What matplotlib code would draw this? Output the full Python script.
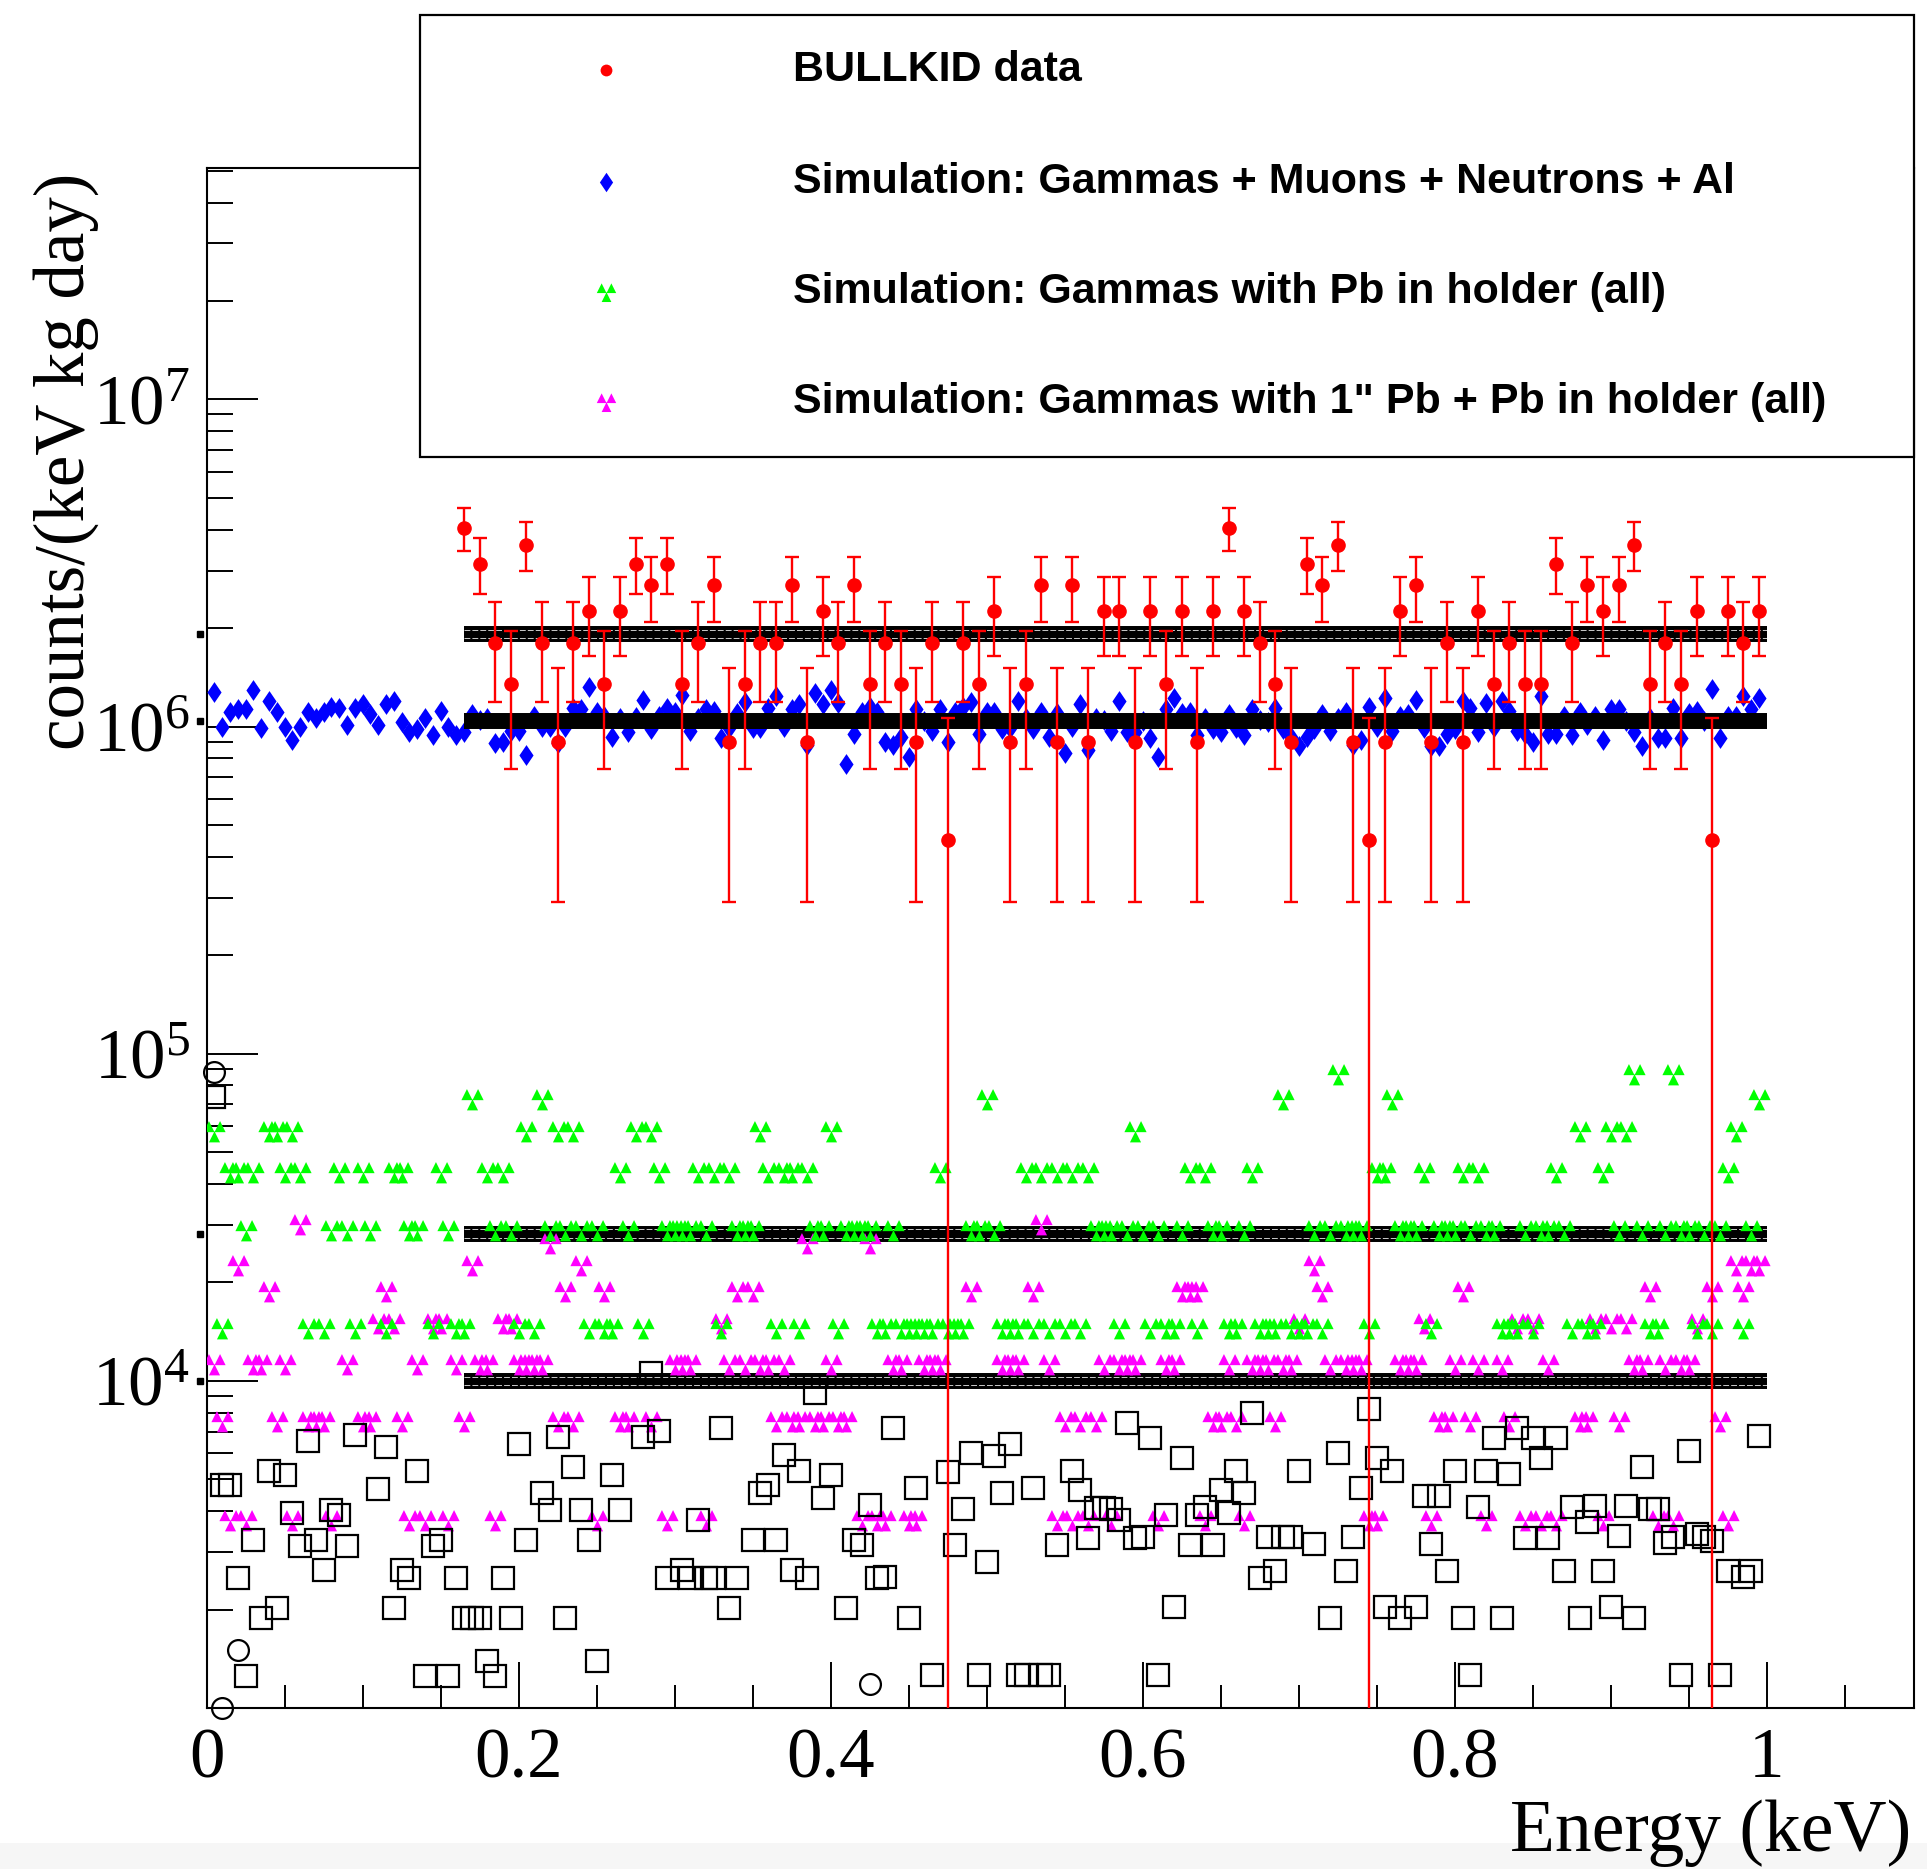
import numpy as np
import matplotlib
matplotlib.use('Agg')
import matplotlib.pyplot as plt
from matplotlib.path import Path
from matplotlib.lines import Line2D
from matplotlib.patches import Rectangle
from matplotlib.ticker import FixedLocator, FixedFormatter, NullFormatter

plt.rcParams['font.family'] = ['Liberation Serif', 'DejaVu Serif']
plt.rcParams['mathtext.fontset'] = 'custom'
plt.rcParams['mathtext.rm'] = 'Liberation Serif'
plt.rcParams['mathtext.it'] = 'Liberation Serif:italic'
plt.rcParams['mathtext.bf'] = 'Liberation Serif:bold'
plt.rcParams['lines.scale_dashes'] = False

# ---------------- data ----------------
legend_labels = ["BULLKID data",
                 "Simulation: Gammas + Muons + Neutrons + Al",
                 "Simulation: Gammas with Pb in holder (all)",
                 "Simulation: Gammas with 1\" Pb + Pb in holder (all)"]

# BULLKID data (counts/(keV kg day)), 0.01 keV bins from 0.165 keV
red_x = np.round(0.165 + 0.01 * np.arange(84), 3)
red_y = np.array([4.05, 3.15, 1.80, 1.35, 3.60, 1.80, 0.90, 1.80, 2.25,
                  1.35, 2.25, 3.15, 2.70, 3.15, 1.35, 1.80, 2.70, 0.90, 1.35, 1.80, 1.80, 2.70, 0.90,
                  2.25, 1.80, 2.70, 1.35, 1.80, 1.35, 0.90, 1.80, 0.45, 1.80, 1.35,
                  2.25, 0.90, 1.35, 2.70, 0.90, 2.70, 0.90, 2.25, 2.25, 0.90, 2.25, 1.35, 2.25, 0.90,
                  2.25, 4.05, 2.25, 1.80, 1.35, 0.90, 3.15, 2.70, 3.60, 0.90,
                  0.45, 0.90, 2.25, 2.70, 0.90, 1.80, 0.90, 2.25, 1.35, 1.80, 1.35, 1.35, 3.15, 1.80,
                  2.70, 2.25, 2.70, 3.60, 1.35, 1.80, 1.35, 2.25, 0.45, 2.25, 1.80, 2.25]) * 1e6
red_err = 0.61e6

# Simulation: Gammas + Muons + Neutrons + Al (0.005 keV bins)
blue_x = np.round(0.005 * np.arange(1, 200), 3)
blue_y = np.array([
    1.28, 1.00, 1.11, 1.13, 1.13, 1.29, 0.99, 1.20, 1.11, 1.00,
    0.91, 1.00, 1.11, 1.06, 1.11, 1.15, 1.14, 1.01, 1.14, 1.17,
    1.09, 1.01, 1.17, 1.20, 1.03, 0.96, 0.98, 1.06, 0.94, 1.12,
    1.00, 0.94, 0.96, 1.09, 1.05, 1.06, 0.89, 0.90, 0.97, 0.97,
    0.82, 1.08, 1.00, 1.00, 0.89, 1.00, 1.14, 1.13, 1.32, 1.11,
    1.08, 0.93, 1.06, 0.96, 1.07, 1.21, 0.98, 1.08, 1.14, 1.11,
    1.25, 0.97, 1.06, 1.13, 1.12, 0.92, 0.99, 1.10, 1.19, 0.99,
    0.99, 1.14, 1.24, 1.00, 1.13, 1.17, 0.88, 1.27, 1.17, 1.29,
    1.18, 0.77, 0.95, 1.11, 1.15, 1.11, 0.90, 0.88, 0.93, 0.81,
    1.13, 1.04, 0.97, 1.13, 0.90, 1.11, 1.15, 1.19, 0.95, 1.11,
    1.11, 0.98, 0.99, 1.20, 1.06, 0.98, 1.11, 0.93, 1.10, 0.83,
    1.00, 1.17, 0.85, 1.06, 1.05, 0.97, 1.20, 0.96, 0.96, 1.04,
    0.92, 0.81, 1.13, 1.22, 1.10, 1.11, 0.94, 1.06, 0.98, 0.96,
    1.09, 0.99, 0.94, 1.13, 1.05, 1.03, 1.14, 0.98, 0.93, 0.87,
    0.93, 0.98, 1.09, 0.97, 1.06, 1.11, 0.88, 0.91, 1.15, 1.00,
    1.22, 0.97, 1.08, 1.09, 1.21, 0.99, 0.87, 0.87, 0.95, 0.98,
    1.20, 1.14, 0.96, 1.18, 1.00, 1.20, 1.12, 0.97, 0.95, 0.90,
    1.24, 0.95, 0.95, 1.08, 0.94, 1.11, 1.01, 1.08, 0.91, 1.13,
    1.13, 1.04, 0.96, 0.87, 1.06, 0.92, 0.92, 1.14, 0.92, 1.10,
    1.12, 1.04, 1.30, 0.92, 1.08, 1.08, 1.24, 1.13, 1.22]) * 1e6

# Simulation: Gammas with Pb in holder (all)  (values in 1e4)
green_x = [0.005, 0.010, 0.015, 0.020, 0.025, 0.030, 0.040, 0.045, 0.050, 0.055,
           0.060, 0.065, 0.075, 0.080, 0.085, 0.090, 0.095, 0.100, 0.105, 0.115,
           0.120, 0.125, 0.130, 0.135, 0.145, 0.150, 0.155, 0.160, 0.165, 0.170,
           0.180, 0.185, 0.190, 0.195, 0.200, 0.205, 0.210, 0.215, 0.220, 0.225,
           0.230, 0.235, 0.240, 0.245, 0.250, 0.255, 0.260, 0.265, 0.270, 0.275,
           0.280, 0.285, 0.290, 0.295] + list(np.round(np.arange(0.300, 0.9951, 0.005), 3))
green_y = np.array([
    5.8, 1.45, 4.35, 4.35, 2.9, 4.35, 5.8, 5.8, 4.35, 5.8,
    4.35, 1.45, 1.45, 2.9, 4.35, 2.9, 1.45, 4.35, 2.9, 1.45,
    4.35, 4.35, 2.9, 2.9, 1.45, 4.35, 2.9, 1.45, 1.45, 7.25,
    4.35, 2.9, 4.35, 2.9, 1.45, 5.8, 1.45, 7.25, 2.9, 5.8,
    2.9, 5.8, 2.9, 1.45, 2.9, 1.45, 1.45, 4.35, 2.9, 5.8,
    1.45, 5.8, 4.35, 2.9,
    2.9, 2.9, 2.9, 4.35, 2.9, 4.35, 1.45, 4.35, 2.9, 2.9,
    2.9, 5.8, 4.35, 1.45, 4.35, 4.35, 1.45, 4.35, 2.9, 2.9,
    5.8, 1.45, 2.9, 2.9, 2.9, 2.9, 1.45, 1.45, 2.9, 1.45,
    1.45, 1.45, 1.45, 1.45, 4.35, 1.45, 1.45, 1.45, 2.9, 2.9,
    7.25, 2.9, 1.45, 1.45, 1.45, 4.35, 1.45, 4.35, 1.45, 4.35,
    1.45, 4.35, 1.45, 4.35, 2.9, 2.9, 2.9, 1.45, 2.9, 5.8,
    2.9, 1.45, 2.9, 1.45, 1.45, 2.9, 4.35, 1.45, 4.35, 2.9,
    2.9, 1.45, 1.45, 2.9, 4.35, 1.45, 1.45, 1.45, 7.25, 1.45,
    1.45, 1.45, 2.9, 1.45, 2.9, 8.7, 2.9, 2.9, 2.9, 1.45,
    4.35, 4.35, 7.25, 2.9, 2.9, 2.9, 4.35, 1.45, 2.9, 2.9,
    2.9, 4.35, 2.9, 4.35, 2.9, 2.9, 1.45, 1.45, 1.45, 2.9,
    1.45, 2.9, 2.9, 4.35, 2.9, 1.45, 5.8, 1.45, 1.45, 4.35,
    5.8, 2.9, 5.8, 8.7, 2.9, 1.45, 1.45, 2.9, 8.7, 2.9,
    2.9, 1.45, 2.9, 1.45, 2.9, 4.35, 5.8, 1.45, 2.9, 7.25]) * 1e4

# Simulation: Gammas with 1" Pb + Pb in holder (all)  (values in 1e3)
mag_x = [0.005, 0.010, 0.015, 0.020, 0.025, 0.030, 0.035, 0.040, 0.045, 0.050,
         0.055, 0.060, 0.065, 0.070, 0.075, 0.080, 0.090, 0.100, 0.105, 0.110,
         0.115, 0.120, 0.125, 0.130, 0.135, 0.140, 0.145, 0.150, 0.155, 0.160,
         0.165, 0.170, 0.175, 0.180, 0.185, 0.190, 0.195, 0.200, 0.205, 0.210,
         0.215, 0.220, 0.225, 0.230, 0.235, 0.240, 0.250, 0.255, 0.265, 0.270,
         0.285, 0.295, 0.300,
         0.305, 0.310, 0.320, 0.330, 0.335, 0.340, 0.345, 0.350, 0.355, 0.360,
         0.365, 0.370, 0.375, 0.380, 0.385, 0.390, 0.395, 0.400, 0.405, 0.410,
         0.420, 0.425, 0.430, 0.435, 0.440, 0.445, 0.450, 0.455, 0.460, 0.465,
         0.470, 0.490, 0.510, 0.515, 0.520, 0.530, 0.535, 0.540, 0.545, 0.550,
         0.555, 0.560, 0.565, 0.570, 0.575, 0.580, 0.585, 0.590, 0.595, 0.610,
         0.615, 0.620, 0.625, 0.630, 0.635, 0.640, 0.645, 0.650, 0.655, 0.660,
         0.665, 0.670, 0.675, 0.680, 0.685, 0.690, 0.695, 0.700, 0.710, 0.715,
         0.720, 0.730, 0.735, 0.740, 0.745, 0.750, 0.765, 0.770, 0.775, 0.780,
         0.785, 0.790, 0.795, 0.800, 0.805, 0.810, 0.815, 0.820, 0.830, 0.835,
         0.840, 0.845, 0.850, 0.855, 0.860, 0.865, 0.880, 0.885, 0.890, 0.895,
         0.900, 0.905, 0.910, 0.915, 0.920, 0.925, 0.930, 0.935, 0.940, 0.945,
         0.950, 0.955, 0.965, 0.970, 0.975, 0.980, 0.985, 0.990, 0.995]
mag_y = np.array([
    11.3, 7.52, 3.76, 22.6, 3.76, 11.3, 11.3, 18.8, 7.52, 11.3,
    3.76, 30.1, 7.52, 7.52, 7.52, 3.76, 11.3, 7.52, 7.52, 15.0,
    18.8, 15.0, 7.52, 3.76, 11.3, 3.76, 15.0, 15.0, 3.76, 11.3,
    7.52, 22.6, 11.3, 11.3, 3.76, 15.0, 15.0, 11.3, 11.3, 11.3,
    11.3, 26.3, 7.52, 18.8, 7.52, 22.6, 3.76, 18.8, 7.52, 7.52,
    7.52, 3.76, 11.3,
    11.3, 11.3, 3.76, 15.0, 11.3, 18.8, 11.3, 18.8, 11.3, 11.3,
    7.52, 11.3, 7.52, 7.52, 26.3, 7.52, 7.52, 11.3, 7.52, 7.52,
    3.76, 26.3, 3.76, 3.76, 11.3, 11.3, 3.76, 3.76, 11.3, 11.3,
    11.3, 18.8, 11.3, 11.3, 11.3, 18.8, 30.1, 11.3, 3.76, 7.52,
    3.76, 7.52, 3.76, 7.52, 11.3, 3.76, 11.3, 11.3, 11.3, 3.76,
    11.3, 11.3, 18.8, 18.8, 18.8, 3.76, 7.52, 7.52, 11.3, 7.52,
    3.76, 11.3, 11.3, 11.3, 7.52, 11.3, 11.3, 15.0, 22.6, 18.8,
    11.3, 11.3, 11.3, 11.3, 3.76, 3.76, 11.3, 11.3, 11.3, 15.0,
    3.76, 7.52, 7.52, 11.3, 18.8, 7.52, 11.3, 3.76, 11.3, 7.52,
    15.0, 3.76, 15.0, 3.76, 11.3, 3.76, 7.52, 7.52, 15.0, 3.76,
    15.0, 7.52, 15.0, 11.3, 11.3, 18.8, 3.76, 11.3, 3.76, 11.3,
    11.3, 15.0, 18.8, 7.52, 3.76, 22.6, 18.8, 22.6, 22.6]) * 1e3

# black open squares (values in 1e3)
sq_x = [0.005, 0.010, 0.015, 0.020, 0.025, 0.030, 0.035, 0.040, 0.045, 0.050,
        0.055, 0.060, 0.065, 0.070, 0.075, 0.080, 0.085, 0.090, 0.095, 0.110,
        0.115, 0.120, 0.125, 0.130, 0.135, 0.140, 0.145, 0.150, 0.155, 0.160,
        0.165, 0.170, 0.175, 0.180, 0.185, 0.190, 0.195, 0.200, 0.205, 0.215,
        0.220, 0.225, 0.230, 0.235, 0.240, 0.245, 0.250, 0.260, 0.265, 0.280,
        0.285, 0.290, 0.295, 0.305, 0.310, 0.315, 0.320, 0.325, 0.330, 0.335,
        0.340, 0.350, 0.355, 0.360, 0.365, 0.370, 0.375, 0.380, 0.385, 0.390,
        0.395, 0.400, 0.410, 0.415, 0.420, 0.425, 0.430,
        0.435, 0.440, 0.450, 0.455, 0.465, 0.475, 0.480, 0.485, 0.490, 0.495,
        0.500, 0.505, 0.510, 0.515, 0.520, 0.525, 0.530, 0.535, 0.540, 0.545,
        0.555, 0.560, 0.565, 0.570, 0.575, 0.580, 0.585, 0.590, 0.595, 0.600,
        0.605, 0.610, 0.615, 0.620, 0.625, 0.630, 0.635, 0.640, 0.645, 0.650,
        0.655, 0.660, 0.665, 0.670, 0.675, 0.680, 0.685, 0.690, 0.695, 0.700,
        0.710, 0.720, 0.725, 0.730, 0.735, 0.740, 0.745, 0.750, 0.755, 0.760,
        0.765, 0.775, 0.780, 0.785, 0.790, 0.795, 0.800, 0.805, 0.810, 0.815,
        0.820, 0.825, 0.830, 0.835, 0.840, 0.845, 0.850, 0.855, 0.860, 0.865,
        0.870, 0.875, 0.880, 0.885, 0.890, 0.895, 0.900, 0.905, 0.910, 0.915,
        0.920, 0.925, 0.930, 0.935, 0.940, 0.945, 0.950, 0.955, 0.960, 0.965,
        0.970, 0.975, 0.985, 0.990, 0.995]
sq_y = np.array([
    74.0, 4.81, 4.81, 2.49, 1.25, 3.26, 1.88, 5.29, 2.02, 5.16,
    3.94, 3.13, 6.57, 3.26, 2.64, 4.03, 3.89, 3.13, 6.84, 4.67,
    6.27, 2.02, 2.64, 2.49, 5.31, 1.25, 3.12, 3.26, 1.25, 2.49,
    1.88, 1.88, 1.88, 1.39, 1.25, 2.49, 1.88, 6.42, 3.26, 4.53,
    4.03, 6.73, 1.88, 5.45, 4.03, 3.26, 1.39, 5.16, 4.03, 6.73,
    10.56, 7.05, 2.49, 2.64, 2.49, 3.76, 2.49, 2.49, 7.17, 2.02,
    2.49, 3.26, 4.53, 4.81, 3.26, 5.94, 2.64, 5.29, 2.49, 9.21,
    4.38, 5.16, 2.02, 3.26, 3.14, 4.18, 2.49,
    2.52, 7.2, 1.88, 4.7, 1.26, 5.26, 3.16, 4.05, 6.0, 1.26,
    2.8, 5.9, 4.55, 6.4, 1.26, 1.26, 4.7, 1.26, 1.26, 3.16,
    5.3, 4.65, 3.3, 4.1, 4.1, 4.05, 3.75, 7.44, 3.3, 3.33,
    6.7, 1.26, 3.9, 2.03, 5.8, 3.16, 3.9, 4.13, 3.16, 4.65,
    3.95, 5.3, 4.55, 7.97, 2.5, 3.33, 2.63, 3.33, 3.33, 5.3,
    3.18, 1.88, 6.0, 2.63, 3.33, 4.7, 8.18, 5.8, 2.03, 5.3,
    1.88, 2.03, 4.45, 3.18, 4.45, 2.63, 5.3, 1.88, 1.26, 4.13,
    5.3, 6.7, 1.88, 5.2, 7.2, 3.3, 6.7, 5.8, 3.3, 6.7,
    2.63, 4.13, 1.88, 3.7, 4.15, 2.63, 2.03, 3.35, 4.15, 1.88,
    5.45, 4.05, 4.05, 3.2, 3.33, 1.26, 6.1, 3.4, 3.33, 3.25,
    1.26, 2.63, 2.52, 2.63, 6.8]) * 1e3

# black open circles
circ_x = [0.005, 0.010, 0.020, 0.425]
circ_y = [8.8e4, 1.0e3, 1.5e3, 1.18e3]

# black mean-level bands
band_y = [1.92e6, 1.04e6, 2.82e4, 1.0e4]
band_textured = [True, False, True, True]
band_xrange = (0.165, 1.0)

x_ticks = [0.0, 0.2, 0.4, 0.6, 0.8, 1.0]
x_ticklabels = ["0", "0.2", "0.4", "0.6", "0.8", "1"]
y_ticks = [1e4, 1e5, 1e6, 1e7]
y_ticklabels = [r"$10^{4}$", r"$10^{5}$", r"$10^{6}$", r"$10^{7}$"]

# ---------------- markers ----------------
def three_triangles():
    centers = [(-0.25, 0.22), (0.25, 0.22), (0.0, -0.24)]
    hw, hh = 0.25, 0.25
    verts, codes = [], []
    for cx, cy in centers:
        verts += [(cx - hw, cy - hh), (cx + hw, cy - hh), (cx, cy + hh), (cx - hw, cy - hh)]
        codes += [Path.MOVETO, Path.LINETO, Path.LINETO, Path.CLOSEPOLY]
    return Path(verts, codes)

TRI3 = three_triangles()
DIAM = Path([(0, 0.5), (0.34, 0), (0, -0.5), (-0.34, 0), (0, 0.5)],
            [Path.MOVETO, Path.LINETO, Path.LINETO, Path.LINETO, Path.CLOSEPOLY])

RED, BLUE, GREEN, MAG = '#ff0000', '#0000ff', '#00ff00', '#ff00ff'

# ---------------- figure ----------------
W, H = 1927, 1869
fig = plt.figure(figsize=(W / 100, H / 100), dpi=100)
fig.add_artist(Rectangle((0, 0), 1, 26 / H, transform=fig.transFigure,
                         facecolor='#f6f6f6', edgecolor='none', zorder=-5))
ax = fig.add_axes([206.5 / W, 1 - 1708 / H, (1913.5 - 206.5) / W, (1708 - 168) / H])
ax.set_yscale('log')
ax.set_xlim(0, 1.094)
ax.set_ylim(1e3, 5.1e7)

ax.plot(blue_x, blue_y, linestyle='none', marker=DIAM, ms=15, color=BLUE,
        markeredgewidth=0, zorder=3)

for yv, tex in zip(band_y, band_textured):
    ax.hlines(yv, *band_xrange, color='black', lw=11.5, zorder=4)
    ax.plot([-0.004], [yv], marker='s', ms=5, color='black', clip_on=False, zorder=4)
    if tex:
        f = 10 ** (4.3 / 327)
        for yy in (yv * f, yv / f):
            ax.plot(band_xrange, [yy, yy], color='white', lw=0.55, dashes=(4.2, 1.5),
                    zorder=4.5)

ax.plot(mag_x, mag_y, linestyle='none', marker=TRI3, ms=16, color=MAG,
        markeredgewidth=0, zorder=5)
ax.plot(green_x, green_y, linestyle='none', marker=TRI3, ms=16, color=GREEN,
        markeredgewidth=0, zorder=5)
ax.plot(sq_x, sq_y, linestyle='none', marker='s', ms=15.5, mfc='none', mec='black',
        mew=1.6, zorder=5.5)
ax.plot(circ_x, circ_y, linestyle='none', marker='o', ms=15, mfc='none', mec='black',
        mew=1.6, zorder=5.5, clip_on=False)

lower = np.minimum(red_err, red_y - 1.0)
ax.errorbar(red_x, red_y, yerr=[lower, np.full_like(red_y, red_err)], fmt='o',
            color=RED, ms=9.5, elinewidth=1.7, capsize=4.9, capthick=1.7, zorder=6)

for s in ax.spines.values():
    s.set_linewidth(1.5)
ax.xaxis.set_major_locator(FixedLocator(x_ticks))
ax.xaxis.set_major_formatter(FixedFormatter(x_ticklabels))
ax.xaxis.set_minor_locator(FixedLocator(np.arange(0, 1.09, 0.05)))
ax.yaxis.set_major_locator(FixedLocator(y_ticks))
ax.yaxis.set_major_formatter(FixedFormatter(y_ticklabels))
ax.yaxis.set_minor_locator(FixedLocator([k * 10.0 ** d for d in range(3, 8) for k in range(2, 10)
                                         if k * 10.0 ** d < 5.1e7]))
ax.yaxis.set_minor_formatter(NullFormatter())
ax.tick_params(axis='x', which='major', direction='in', length=33, width=1.4,
               labelsize=51, pad=14, top=False)
ax.tick_params(axis='x', which='minor', direction='in', length=16.5, width=1.4, top=False)
ax.tick_params(axis='y', which='major', direction='in', length=36.7, width=1.4,
               labelsize=51, pad=12, right=False)
ax.tick_params(axis='y', which='minor', direction='in', length=18.7, width=1.4, right=False)

fig.text(1911 / W, 1 - 1833 / H, 'Energy (keV)', ha='right', va='center', fontsize=53)
fig.text(66.5 / W, 1 - 173 / H, 'counts/(keV kg day)', rotation=90, ha='center',
         va='top', fontsize=51)

# legend
fig.add_artist(Rectangle((420 / W, 1 - 457 / H), (1914 - 420) / W, (457 - 15) / H,
                         transform=fig.transFigure, facecolor='white', edgecolor='black',
                         lw=1.6, zorder=20))
rows = [70, 182, 292, 402]
styles = [dict(marker='o', ms=8.5, color=RED, markeredgewidth=0),
          dict(marker=DIAM, ms=14, color=BLUE, markeredgewidth=0),
          dict(marker=TRI3, ms=14, color=GREEN, markeredgewidth=0),
          dict(marker=TRI3, ms=14, color=MAG, markeredgewidth=0)]
for yc, lab, st in zip(rows, legend_labels, styles):
    fig.add_artist(Line2D([606 / W], [1 - yc / H], transform=fig.transFigure,
                          linestyle='none', zorder=21, **st))
    fig.text(793 / W, 1 - yc / H, lab, ha='left', va='center', fontsize=31,
             fontweight='bold', family=['Liberation Sans'], zorder=21)

fig.savefig('out.png', dpi=100)
